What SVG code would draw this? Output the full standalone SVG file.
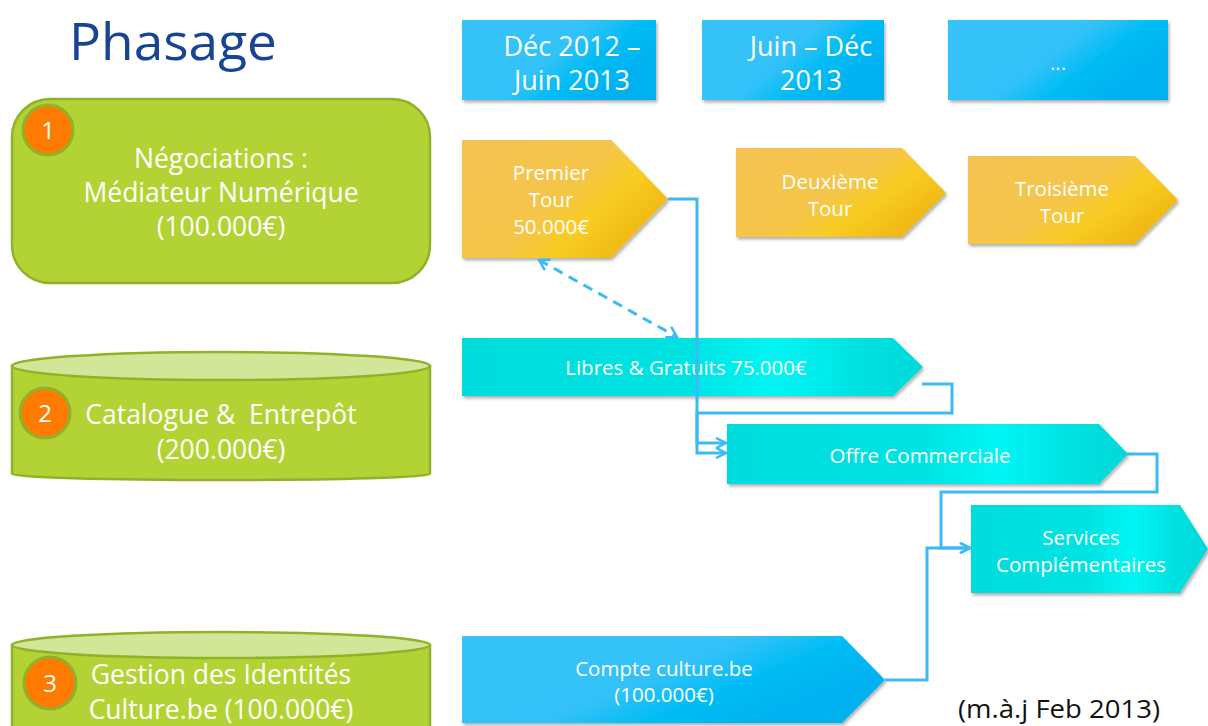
<svg xmlns="http://www.w3.org/2000/svg" width="1208" height="726" viewBox="0 0 1208 726">
<defs>
<style>
.t{font-family:"Open Sans","Liberation Sans",sans-serif;fill:#ffffff;text-anchor:middle}
.big{font-size:26.5px}
.num{font-size:24px}
.mid{font-size:20.5px}
.hdr{font-size:27px}
.green{fill:#b3d334;stroke:#8fb22a;stroke-width:2.5}
.top{fill:#d3e698;stroke:#8fb22a;stroke-width:2.5}
.badge{fill:#ff7a00;stroke:#8fb22a;stroke-width:3}
.conn{fill:none;stroke:#3db9f5;stroke-width:3}
</style>
<linearGradient id="gOr" x1="0" y1="0" x2="1" y2="0.6">
<stop offset="0" stop-color="#f4c352"/>
<stop offset="0.55" stop-color="#f5c54a"/>
<stop offset="0.75" stop-color="#f8cc22"/>
<stop offset="1" stop-color="#f0b814"/>
</linearGradient>
<linearGradient id="gCy" x1="0" y1="0" x2="1" y2="0">
<stop offset="0" stop-color="#00dcdc"/>
<stop offset="0.5" stop-color="#00e3e3"/>
<stop offset="0.68" stop-color="#00f6f6"/>
<stop offset="0.85" stop-color="#00e2e2"/>
<stop offset="1" stop-color="#00d8d8"/>
</linearGradient>
<linearGradient id="gBl" x1="0" y1="0" x2="1" y2="0.5">
<stop offset="0" stop-color="#35c3f8"/>
<stop offset="0.55" stop-color="#33c2f8"/>
<stop offset="0.75" stop-color="#00bcf5"/>
<stop offset="1" stop-color="#00b0ef"/>
</linearGradient>
<filter id="sh" x="-5%" y="-5%" width="110%" height="120%">
<feDropShadow dx="1.5" dy="2.5" stdDeviation="1.5" flood-color="#000" flood-opacity="0.3"/>
</filter>
<marker id="ah" viewBox="0 0 12 12" refX="11" refY="6" markerWidth="12" markerHeight="12" markerUnits="userSpaceOnUse" orient="auto">
<path d="M1,1 L11,6 L1,11" fill="none" stroke="#3db9f5" stroke-width="2.5"/>
</marker>
<marker id="ahd" viewBox="0 0 14 14" refX="12" refY="7" markerWidth="14" markerHeight="14" markerUnits="userSpaceOnUse" orient="auto-start-reverse">
<path d="M2,1 L12,7 L2,13" fill="none" stroke="#3db9f5" stroke-width="2.5"/>
</marker>
</defs>
<rect width="1208" height="726" fill="#ffffff"/>

<text x="69" y="60" font-family="Open Sans, Liberation Sans, sans-serif" font-size="52" fill="#174493" textLength="208" lengthAdjust="spacingAndGlyphs">Phasage</text>

<g id="phase1">
<rect class="green" x="12" y="99" width="418" height="184" rx="38"/>
<circle class="badge" cx="48" cy="130" r="25"/>
<text class="t num" x="48" y="139">1</text>
<text class="t big" x="221" y="168">Négociations :</text>
<text class="t big" x="221" y="202">Médiateur Numérique</text>
<text class="t big" x="221" y="236">(100.000€)</text>
</g>

<g id="phase2">
<path class="green" d="M12,366 L12,474 A209,6 0 0 0 430,474 L430,366 Z"/>
<ellipse class="top" cx="221" cy="366" rx="209" ry="14"/>
<circle class="badge" cx="45" cy="413" r="25"/>
<text class="t num" x="45" y="422">2</text>
<text class="t big" x="221" y="424" xml:space="preserve">Catalogue &amp;  Entrepôt</text>
<text class="t big" x="221" y="459">(200.000€)</text>
</g>

<g id="phase3">
<path class="green" d="M12,645 L12,730 L430,730 L430,645 Z"/>
<ellipse class="top" cx="221" cy="645" rx="209" ry="13"/>
<circle class="badge" cx="50" cy="683" r="26"/>
<text class="t num" x="50" y="692">3</text>
<text class="t big" x="221" y="684">Gestion des Identités</text>
<text class="t big" x="221" y="719">Culture.be (100.000€)</text>
</g>

<g id="hdr1">
<rect x="462" y="20" width="194" height="80" fill="url(#gBl)" filter="url(#sh)"/>
<text class="t hdr" x="572" y="56">Déc 2012 –</text>
<text class="t hdr" x="572" y="90">Juin 2013</text>
</g>
<g id="hdr2">
<rect x="702" y="20" width="182" height="80" fill="url(#gBl)" filter="url(#sh)"/>
<text class="t hdr" x="811" y="56">Juin – Déc</text>
<text class="t hdr" x="811" y="90">2013</text>
</g>
<g id="hdr3">
<rect x="948" y="20" width="220" height="80" fill="url(#gBl)" filter="url(#sh)"/>
<text class="t mid" x="1058" y="70">...</text>
</g>

<g id="tour1">
<path d="M462,140 L611,140 L668,199 L611,258 L462,258 Z" fill="url(#gOr)" filter="url(#sh)"/>
<text class="t mid" x="551" y="180">Premier</text>
<text class="t mid" x="551" y="207">Tour</text>
<text class="t mid" x="551" y="234">50.000€</text>
</g>
<g id="tour2">
<path d="M736,148 L902,148 L946,193 L902,237 L736,237 Z" fill="url(#gOr)" filter="url(#sh)"/>
<text class="t mid" x="830" y="189">Deuxième</text>
<text class="t mid" x="830" y="216">Tour</text>
</g>
<g id="tour3">
<path d="M968,156 L1135,156 L1178,200 L1135,244 L968,244 Z" fill="url(#gOr)" filter="url(#sh)"/>
<text class="t mid" x="1062" y="196">Troisième</text>
<text class="t mid" x="1062" y="223">Tour</text>
</g>

<g id="libres">
<path d="M462,338 L893,338 L923,367 L893,396 L462,396 Z" fill="url(#gCy)" filter="url(#sh)"/>
<text class="t mid" x="686" y="375">Libres &amp; Gratuits 75.000€</text>
</g>
<g id="offre">
<path d="M727,424 L1099,424 L1128,454 L1099,484 L727,484 Z" fill="url(#gCy)" filter="url(#sh)"/>
<text class="t mid" x="920" y="463">Offre Commerciale</text>
</g>
<g id="services">
<path d="M971,505 L1180,505 L1208,549 L1180,593 L971,593 Z" fill="url(#gCy)" filter="url(#sh)"/>
<text class="t mid" x="1081" y="545">Services</text>
<text class="t mid" x="1081" y="572">Complémentaires</text>
</g>
<g id="compte">
<path d="M462,636 L842,636 L885,680 L842,723 L462,723 Z" fill="url(#gBl)" filter="url(#sh)"/>
<text class="t mid" x="664" y="676">Compte culture.be</text>
<text class="t mid" x="664" y="702">(100.000€)</text>
</g>

<g id="note">
<text x="958" y="718" font-family="Open Sans, Liberation Sans, sans-serif" font-size="25" fill="#111111" textLength="202" lengthAdjust="spacingAndGlyphs">(m.à.j Feb 2013)</text>
</g>

<g id="connectors">
<path class="conn" d="M668,199 L697,199 L697,453 L726,453" marker-end="url(#ah)"/>
<path class="conn" d="M922,384 L952,384 L952,413 L697,413 L697,443 L726,443" marker-end="url(#ah)"/>
<path class="conn" d="M1127,454 L1157,454 L1157,492 L941,492 L941,548 L970,548" marker-end="url(#ah)"/>
<path class="conn" d="M885,680 L927,680 L927,548 L970,548" marker-end="url(#ah)"/>
<path class="conn" d="M539,260 L677,337" stroke-dasharray="10,7" marker-start="url(#ahd)" marker-end="url(#ahd)"/>
</g>
</svg>
